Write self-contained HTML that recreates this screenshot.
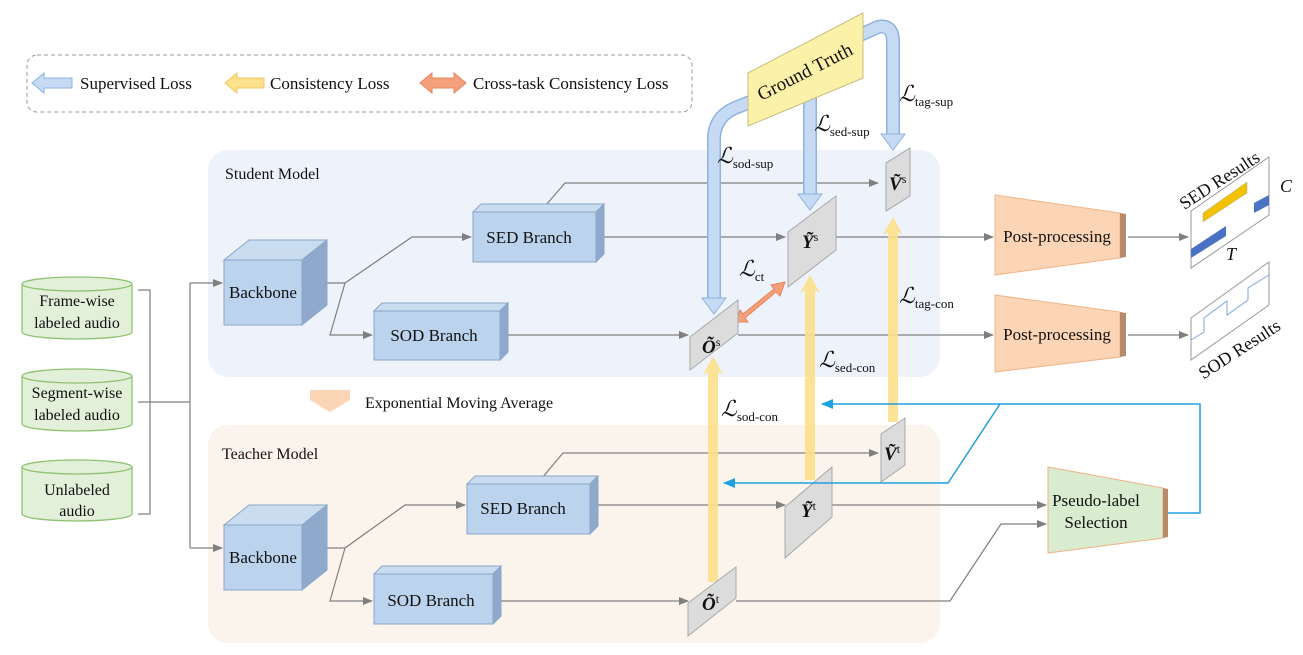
<!DOCTYPE html>
<html><head><meta charset="utf-8"><style>
html,body{margin:0;padding:0;background:#fff}
svg{display:block}
text{font-family:"Liberation Serif",serif;fill:#111}
</style></head><body>
<svg width="1303" height="655" viewBox="0 0 1303 655" xmlns="http://www.w3.org/2000/svg">
<defs>
<marker id="ga" markerWidth="10" markerHeight="10" refX="9" refY="5" orient="auto" markerUnits="userSpaceOnUse"><path d="M0,1 L10,5 L0,9z" fill="#7f7f7f"/></marker>
<marker id="ba" markerWidth="12" markerHeight="12" refX="11" refY="6" orient="auto" markerUnits="userSpaceOnUse"><path d="M0,1 L12,6 L0,11z" fill="#1fa0e0"/></marker>
</defs>
<rect x="27" y="55" width="665" height="57" rx="10" fill="none" stroke="#999" stroke-dasharray="4,3"/>
<path d="M32,83 L44,73 L44,78 L72,78 L72,88 L44,88 L44,93z" fill="#c6dbf3" stroke="#8eb3e0"/>
<text x="80" y="89" font-size="17">Supervised Loss</text>
<path d="M225,83 L237,73 L237,78 L264,78 L264,88 L237,88 L237,93z" fill="#fde28e" stroke="#f3c760"/>
<text x="270" y="89" font-size="17">Consistency  Loss</text>
<path d="M420,83 L432,73 L432,78 L454,78 L454,73 L466,83 L454,93 L454,88 L432,88 L432,93z" fill="#f4a07a" stroke="#e6845a"/>
<text x="473" y="89" font-size="17">Cross-task Consistency Loss</text>
<rect x="208" y="150" width="732" height="227" rx="20" fill="#eef2fa"/>
<rect x="208" y="425" width="732" height="218" rx="20" fill="#fbf4ec"/>
<text x="225" y="179" font-size="16">Student Model</text>
<text x="222" y="459" font-size="16">Teacher Model</text>
<path d="M310,390 L350,390 L350,400 L330,412 L310,400z" fill="#fbd6b6"/>
<text x="365" y="408" font-size="16">Exponential Moving Average</text>
<g fill="#e2efd9" stroke="#8fc270" stroke-width="1.3">
<path d="M22,284 L22,332 A55,7 0 0 0 132,332 L132,284"/><ellipse cx="77" cy="284" rx="55" ry="7"/>
<path d="M22,376 L22,424 A55,7 0 0 0 132,424 L132,376"/><ellipse cx="77" cy="376" rx="55" ry="7"/>
<path d="M22,467 L22,514 A55,7 0 0 0 132,514 L132,467"/><ellipse cx="77" cy="467" rx="55" ry="7"/>
</g>
<g font-size="16" text-anchor="middle">
<text x="77" y="306">Frame-wise</text><text x="77" y="328">labeled audio</text>
<text x="77" y="398">Segment-wise</text><text x="77" y="420">labeled audio</text>
<text x="77" y="495">Unlabeled</text><text x="77" y="516">audio</text>
</g>
<g stroke="#7f7f7f" fill="none" stroke-width="1.2">
<path d="M138,290 L150,290 L150,514 L138,514 M138,402 L190,402 M190,283 L190,548"/>
<path d="M190,283 L222,283" marker-end="url(#ga)"/>
<path d="M190,548 L222,548" marker-end="url(#ga)"/>
<path d="M302,283 L345,283 L412,237 L471,237" marker-end="url(#ga)"/>
<path d="M345,283 L330,335 L372,335" marker-end="url(#ga)"/>
<path d="M540,212 L565,183 L878,183" marker-end="url(#ga)"/>
<path d="M600,237 L785,237" marker-end="url(#ga)"/>
<path d="M836,237 L993,237" marker-end="url(#ga)"/>
<path d="M505,335 L688,335" marker-end="url(#ga)"/>
<path d="M738,335 L993,335" marker-end="url(#ga)"/>
<path d="M1128,237 L1188,237" marker-end="url(#ga)"/>
<path d="M1128,335 L1188,335" marker-end="url(#ga)"/>
<path d="M302,548 L345,548 L405,505 L465,505" marker-end="url(#ga)"/>
<path d="M345,548 L330,601 L372,601" marker-end="url(#ga)"/>
<path d="M537,484 L563,453 L878,453" marker-end="url(#ga)"/>
<path d="M596,505 L785,505" marker-end="url(#ga)"/>
<path d="M832,505 L1046,505" marker-end="url(#ga)"/>
<path d="M497,601 L688,601" marker-end="url(#ga)"/>
<path d="M736,601 L950,601 L1001,524 L1046,524" marker-end="url(#ga)"/>
</g>
<g stroke="#8aa6c8" stroke-width="1">
<path d="M224,260 L249,240 L327,240 L302,260z" fill="#c9dcf0"/><path d="M302,260 L327,240 L327,305 L302,325z" fill="#8fa9cc"/><rect x="224" y="260" width="78" height="65" fill="#bcd3ee"/>
<path d="M224,525 L249,505 L327,505 L302,525z" fill="#c9dcf0"/><path d="M302,525 L327,505 L327,570 L302,590z" fill="#8fa9cc"/><rect x="224" y="525" width="78" height="65" fill="#bcd3ee"/>
<path d="M473,212 L481,204 L604,204 L596,212z" fill="#c9dcf0"/><path d="M596,212 L604,204 L604,254 L596,262z" fill="#8fa9cc"/><rect x="473" y="212" width="123" height="50" fill="#bcd3ee"/>
<path d="M374,311 L382,303 L508,303 L500,311z" fill="#c9dcf0"/><path d="M500,311 L508,303 L508,352 L500,360z" fill="#8fa9cc"/><rect x="374" y="311" width="126" height="49" fill="#bcd3ee"/>
<path d="M467,484 L475,476 L598,476 L590,484z" fill="#c9dcf0"/><path d="M590,484 L598,476 L598,526 L590,534z" fill="#8fa9cc"/><rect x="467" y="484" width="123" height="50" fill="#bcd3ee"/>
<path d="M374,574 L382,566 L501,566 L493,574z" fill="#c9dcf0"/><path d="M493,574 L501,566 L501,616 L493,624z" fill="#8fa9cc"/><rect x="374" y="574" width="119" height="50" fill="#bcd3ee"/>
</g>
<g font-size="17" text-anchor="middle">
<text x="263" y="298">Backbone</text><text x="263" y="563">Backbone</text>
<text x="529" y="243">SED Branch</text><text x="434" y="341">SOD Branch</text>
<text x="523" y="514">SED Branch</text><text x="431" y="606">SOD Branch</text>
</g>
<g fill="none" stroke-linejoin="round">
<path d="M755,100 L735,108 Q714,117 714,140 L714,300" stroke="#8eb3e0" stroke-width="14"/>
<path d="M755,100 L735,108 Q714,117 714,140 L714,300" stroke="#c6dbf3" stroke-width="11"/>
<path d="M810,90 L810,196" stroke="#8eb3e0" stroke-width="14"/><path d="M810,90 L810,196" stroke="#c6dbf3" stroke-width="11"/>
<path d="M860,35 L878,27 Q893,24 893,42 L893,136" stroke="#8eb3e0" stroke-width="14"/>
<path d="M860,35 L878,27 Q893,24 893,42 L893,136" stroke="#c6dbf3" stroke-width="11"/>
</g>
<g fill="#c6dbf3" stroke="#8eb3e0">
<path d="M702,298 L726,298 L714,314z"/><path d="M798,194 L822,194 L810,210z"/><path d="M881,134 L905,134 L893,150z"/>
</g>
<path d="M748,73 L863,13 L863,78 L748,126z" fill="#fcf1a9" stroke="#c9bf80"/>
<text x="805" y="78" font-size="19" text-anchor="middle" transform="rotate(-27 805 72)">Ground Truth</text>
<g fill="#fde08a" opacity="0.9">
<path d="M708,582 L708,372 L703,375 L713,356 L723,375 L718,372 L718,582z"/>
<path d="M805,480 L805,290 L800,293 L810,275 L820,293 L815,290 L815,480z"/>
<path d="M888,422 L888,232 L883,235 L893,217 L903,235 L898,232 L898,422z"/>
</g>
<path d="M736,322 L748,322 L745,318 L776,292 L780,296 L785,282 L771,285 L774,289 L743,314 L740,310z" fill="#f4a07a" stroke="#e6845a"/>
<g fill="#dcdcdc" stroke="#a8a8a8">
<path d="M886,163 L910,148 L910,196 L886,211z"/>
<path d="M788,232 L836,196 L836,250 L788,287z"/>
<path d="M690,337 L738,300 L738,333 L690,370z"/>
<path d="M881,434 L905,418 L905,465 L881,482z"/>
<path d="M785,507 L832,467 L832,517 L785,558z"/>
<path d="M688,603 L736,567 L736,598 L688,636z"/>
</g>
<g font-size="19" font-weight="bold" font-style="italic">
<text x="889" y="190">Ṽ<tspan font-size="12" font-weight="normal" font-style="normal" dy="-7">s</tspan></text>
<text x="802" y="248">Ỹ<tspan font-size="12" font-weight="normal" font-style="normal" dy="-7">s</tspan></text>
<text x="702" y="353">Õ<tspan font-size="12" font-weight="normal" font-style="normal" dy="-7">s</tspan></text>
<text x="884" y="460">Ṽ<tspan font-size="12" font-weight="normal" font-style="normal" dy="-7">t</tspan></text>
<text x="801" y="517">Ỹ<tspan font-size="12" font-weight="normal" font-style="normal" dy="-7">t</tspan></text>
<text x="702" y="610">Õ<tspan font-size="12" font-weight="normal" font-style="normal" dy="-7">t</tspan></text>
</g>
<g font-size="22" font-style="italic">
<text x="899" y="101">ℒ<tspan font-size="13" font-style="normal" dy="5">tag-sup</tspan></text>
<text x="814" y="131">ℒ<tspan font-size="13" font-style="normal" dy="5">sed-sup</tspan></text>
<text x="717" y="163">ℒ<tspan font-size="13" font-style="normal" dy="5">sod-sup</tspan></text>
<text x="739" y="276">ℒ<tspan font-size="13" font-style="normal" dy="5">ct</tspan></text>
<text x="899" y="303">ℒ<tspan font-size="13" font-style="normal" dy="5">tag-con</tspan></text>
<text x="819" y="367">ℒ<tspan font-size="13" font-style="normal" dy="5">sed-con</tspan></text>
<text x="721" y="416">ℒ<tspan font-size="13" font-style="normal" dy="5">sod-con</tspan></text>
</g>
<path d="M995,195 L1120,213 L1120,258 L995,275z" fill="#fbd5b5" stroke="#f0b386"/>
<path d="M1120,213 L1126,214 L1126,257 L1120,258z" fill="#b88a6c"/>
<path d="M995,295 L1120,312 L1120,357 L995,372z" fill="#fbd5b5" stroke="#f0b386"/>
<path d="M1120,312 L1126,313 L1126,356 L1120,357z" fill="#b88a6c"/>
<text x="1057" y="242" font-size="17" text-anchor="middle">Post-processing</text>
<text x="1057" y="340" font-size="17" text-anchor="middle">Post-processing</text>
<path d="M1048,467 L1163,488 L1163,538 L1048,553z" fill="#d9ecd0" stroke="#f0b386"/>
<path d="M1163,488 L1168,489 L1168,537 L1163,538z" fill="#b88a6c"/>
<text x="1096" y="506" font-size="17" text-anchor="middle">Pseudo-label</text>
<text x="1096" y="528" font-size="17" text-anchor="middle">Selection</text>
<g fill="none" stroke="#1fa0e0" stroke-width="1.5">
<path d="M1168,513 L1200,513 L1200,404 L822,404" marker-end="url(#ba)"/>
<path d="M1000,404 L948,483 L724,483" marker-end="url(#ba)"/>
</g>
<path d="M1191,211 L1269,157 L1269,215 L1191,268z" fill="#fff" stroke="#999"/>
<path d="M1203,213 L1247,182 L1247,193 L1203,222z" fill="#f2c200" stroke="#aaa" stroke-width="0.5"/>
<path d="M1254,203 L1269,195 L1269,205 L1254,213z" fill="#4a72c4"/>
<path d="M1191,249 L1226,226 L1226,236 L1191,258z" fill="#4a72c4"/>
<text x="1280" y="192" font-size="18" font-style="italic">C</text>
<text x="1226" y="260" font-size="18" font-style="italic">T</text>
<text x="1220" y="186" font-size="18" transform="rotate(-33 1220 181)" text-anchor="middle">SED Results</text>
<path d="M1191,318 L1269,262 L1269,305 L1191,360z" fill="#fff" stroke="#999"/>
<path d="M1191,340 L1204,332 L1204,318 L1227,301 L1227,315 L1248,300 L1248,288 L1269,275" fill="none" stroke="#7aa6e0"/>
<text x="1240" y="355" font-size="18" transform="rotate(-33 1240 350)" text-anchor="middle">SOD Results</text>
</svg>
</body></html>
